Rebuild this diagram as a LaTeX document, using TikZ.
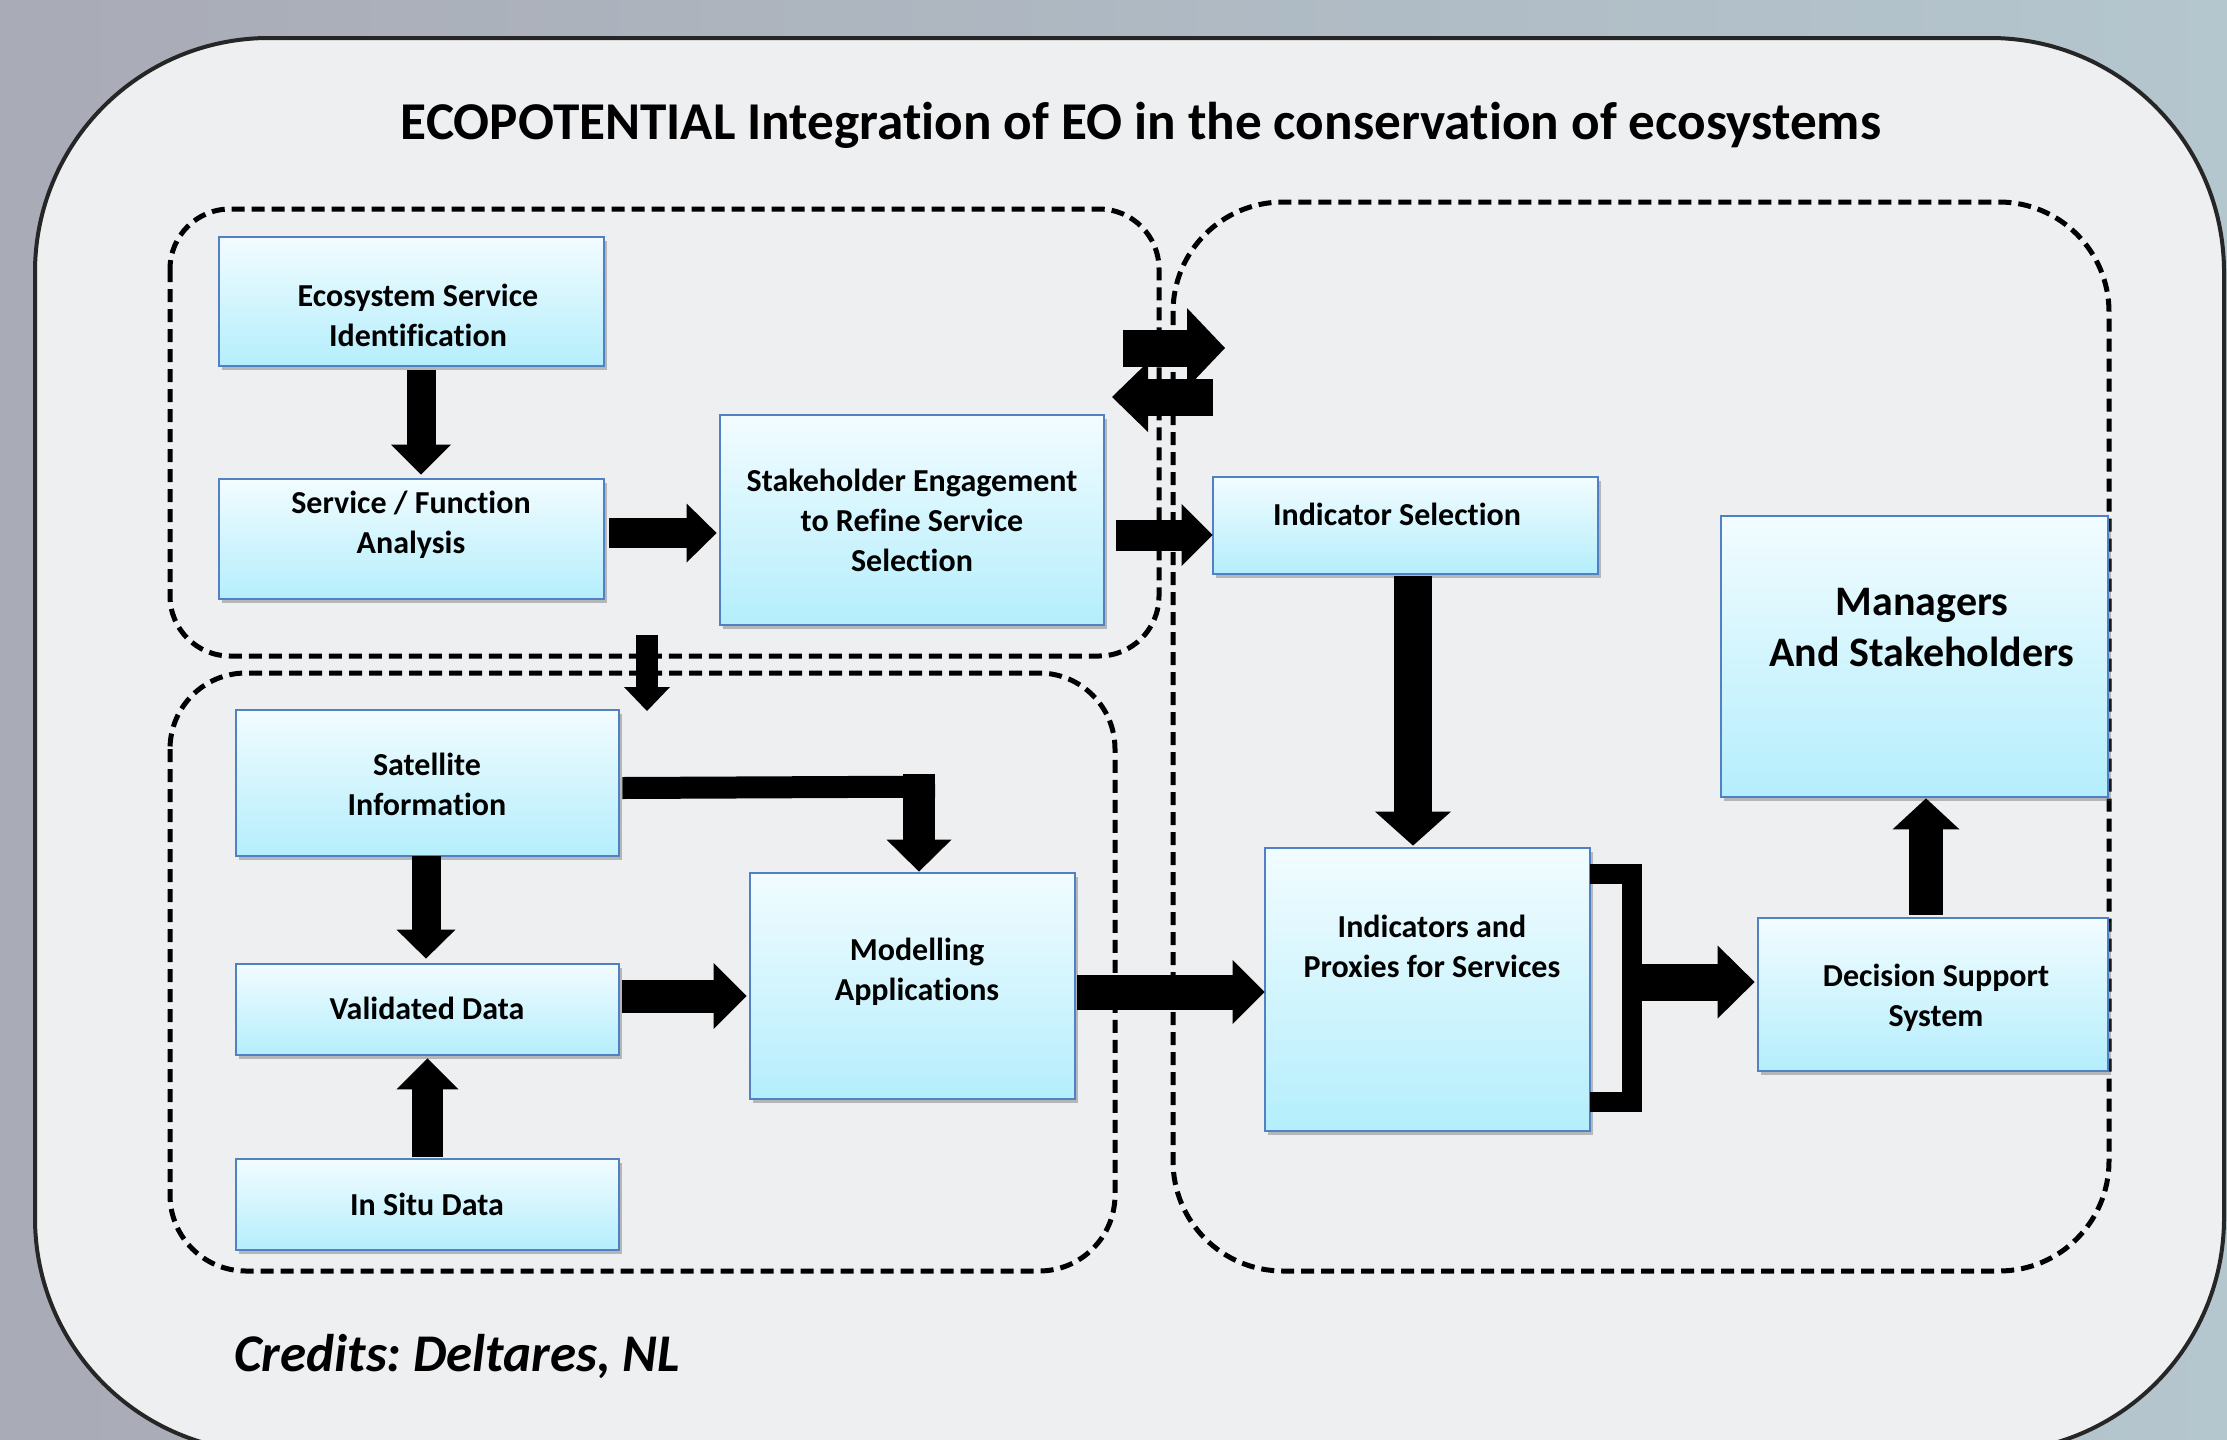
\documentclass[tikz,border=0pt]{standalone}
\usepackage{fontspec}
\setmainfont{Carlito}[Ligatures=NoCommon]
\usetikzlibrary{arrows.meta,calc,shadows}
\definecolor{bgL}{HTML}{A9ABB6}
\definecolor{bgR}{HTML}{B4C6CE}
\definecolor{panel}{HTML}{EEEFF1}
\definecolor{boxtop}{HTML}{F2FCFF}
\definecolor{boxbot}{HTML}{B4EEFC}
\definecolor{boxline}{HTML}{4F81C4}
\frenchspacing
\begin{document}
\begin{tikzpicture}[x=0.5pt,y=-0.5pt,
 box/.style={draw=boxline, line width=1.4pt, top color=boxtop, bottom color=boxbot, inner sep=0pt,
   drop shadow={shadow xshift=1.5pt, shadow yshift=-1.8pt, opacity=0.35, fill=black!70}},
 lbl/.style={align=center, font=\fontsize{16pt}{20pt}\selectfont\bfseries, inner sep=0pt},
 biglbl/.style={align=center, font=\fontsize{21pt}{25.5pt}\selectfont\bfseries, inner sep=0pt},
 region/.style={draw=black, line width=2.5pt, dash pattern=on 6.5pt off 3.5pt},
 blk/.style n args={3}{draw=black, line width=#1, -{Triangle[width=#2,length=#3,line width=0pt]}},
]
\useasboundingbox (0,0) rectangle (2227,1440);
\fill[left color=bgL, right color=bgR] (0,0) rectangle (2227,1440);
\begin{scope}
\clip (0,0) rectangle (2227,1440);
\draw[fill=panel, draw=black!85, line width=2pt, rounded corners=117pt] (35,38) rectangle (2224,1452);
\end{scope}

% title and credits
\node[font=\fontsize{26.6pt}{30pt}\selectfont\bfseries, inner sep=0pt] (title) at (1141,125)
  {ECOPOTENTIAL Integration of EO in the conservation of ecosystems};
\node[font=\fontsize{26.5pt}{30pt}\selectfont\bfseries\itshape\frenchspacing, anchor=west, inner sep=0pt] (credits) at (234,1356)
  {Credits: Deltares, NL};

% dashed regions
\draw[region, rounded corners=30pt] (170,209) rectangle (1159,656);
\draw[region, rounded corners=38pt] (170,673) rectangle (1115,1271);
\draw[region, rounded corners=55pt] (1173,202) rectangle (2109,1271);

% boxes
\node[box, minimum width=192.5pt, minimum height=64.5pt] (eco) at (411.5,301.5) {};
\node[box, minimum width=192.5pt, minimum height=60pt] (sf) at (411.5,539) {};
\node[box, minimum width=192pt, minimum height=105pt] (stake) at (912,520) {};
\node[box, minimum width=192.5pt, minimum height=48.5pt] (indsel) at (1405.5,525.5) {};
\node[box, minimum width=193.5pt, minimum height=140.5pt] (mgr) at (1914.5,656.5) {};
\node[box, minimum width=191.5pt, minimum height=73pt] (sat) at (427.5,783) {};
\node[box, minimum width=191.5pt, minimum height=45.5pt] (val) at (427.5,1009.5) {};
\node[box, minimum width=191.5pt, minimum height=45.5pt] (insitu) at (427.5,1204.5) {};
\node[box, minimum width=162.5pt, minimum height=113pt] (mod) at (912.5,986) {};
\node[box, minimum width=162.5pt, minimum height=141.5pt] (ind) at (1427.5,989.5) {};
\node[box, minimum width=175pt, minimum height=76.5pt] (dss) at (1933,994.5) {};

% labels
\node[lbl] (eco-t) at (418,315) {Ecosystem Service\\Identification};
\node[lbl] (sf-t) at (411,525) {Service / Function\\Analysis};
\node[lbl] (stake-t) at (912,520) {Stakeholder Engagement\\to Refine Service\\Selection};
\node[lbl] (indsel-t) at (1397,514) {Indicator Selection};
\node[biglbl] (mgr-t) at (1922,628) {Managers\\And Stakeholders};
\node[lbl] (sat-t) at (427,784) {Satellite\\Information};
\node[lbl] (val-t) at (427,1008) {Validated Data};
\node[lbl] (insitu-t) at (427,1204) {In Situ Data};
\node[lbl] (mod-t) at (917,972) {Modelling\\Applications};
\node[lbl] (ind-t) at (1432,946) {Indicators and\\Proxies for Services};
\node[lbl] (dss-t) at (1936,998) {Decision Support\\System};

% free ends
\coordinate (c5a) at (647,635);
\coordinate (c5b) at (647,711);
\coordinate (c6a) at (1123,348);
\coordinate (c6b) at (1225,348);
\coordinate (c7a) at (1213,397);
\coordinate (c7b) at (1112,397);

% arrows
\draw[blk={14.5pt}{30pt}{15pt}] ($(eco.south)+(9.5,3)$) -- ($(sf.north)+(9.5,-3)$);
\draw[blk={15pt}{29.5pt}{15pt}] ($(sf.east)+(4,-6)$) -- ($(stake.west)+(-2,13)$);
\draw[blk={15.5pt}{31pt}{15.5pt}] ($(stake.east)+(11,15)$) -- ($(indsel.west)+(1,9.5)$);
\draw[blk={19pt}{38pt}{17pt}] ($(indsel.south)+(7.5,1)$) -- ($(ind.north)+(-14.5,-1)$);
\draw[blk={11pt}{23pt}{12pt}] (c5a) -- (c5b);
\draw[blk={18.5pt}{40pt}{19pt}] (c6a) -- (c6b);
\draw[blk={18.5pt}{35pt}{18pt}] (c7a) -- (c7b);
\draw[blk={14.5pt}{29.5pt}{14.5pt}] ($(sat.south)+(-1.5,-1)$) -- ($(val.north)+(-1.5,-4)$);
\draw[blk={15.5pt}{31pt}{15.5pt}] ($(insitu.north)+(0,-1)$) -- ($(val.south)+(0,2)$);
\draw[blk={16.5pt}{33pt}{16.5pt}] ($(val.east)+(2,-13.5)$) -- ($(mod.west)+(-2,10)$);
% satellite -> modelling elbow
\coordinate (elb) at ($(mod.north)+(22.5,-85)$);
\draw[line width=11pt] ($(sat.east)+(2,5)$) -- (elb);
\draw[blk={16pt}{32.5pt}{16pt}] ($(mod.north)+(6.5,-98)$) -- ($(mod.north)+(6.5,0)$);
\draw[blk={17.5pt}{32pt}{16pt}] ($(mod.east)+(1,6)$) -- ($(ind.west)+(1,2.5)$);
% bracket
\coordinate (br1) at ($(ind.east)+(-1,-115.5)$);
\coordinate (br2) at ($(ind.east)+(-1,112.5)$);
\coordinate (brm) at ($(ind.east)+(32,-7.5)$);
\draw[line width=10pt, line join=miter] (br1) -- ++(42,0) |- (br2);
\draw[blk={18.5pt}{36.5pt}{18.5pt}] (brm) -- ($(dss.west)+(-2,-12.5)$);
\draw[blk={17pt}{33.5pt}{15.5pt}] ($(dss.north)+(-7,-2)$) -- ($(mgr.south)+(11.5,0)$);
\end{tikzpicture}
\end{document}
